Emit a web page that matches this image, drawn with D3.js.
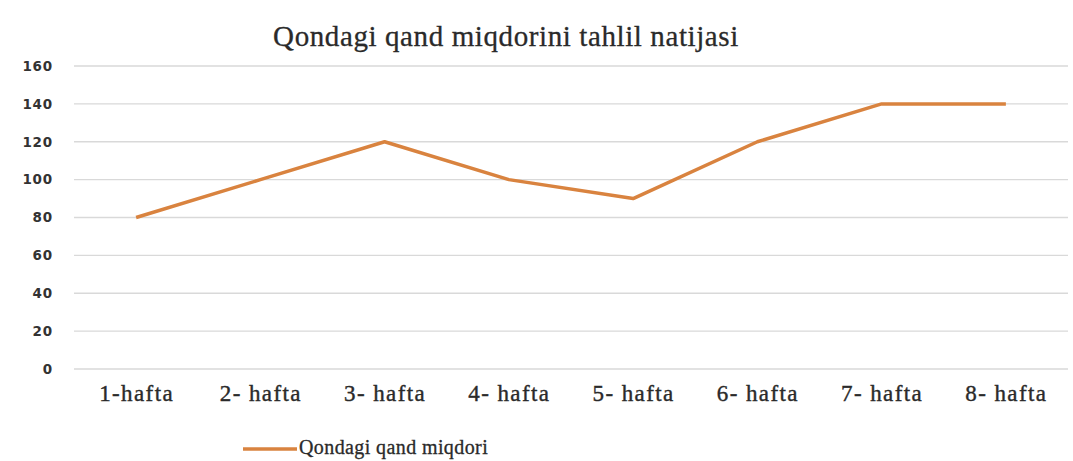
<html>
<head>
<script src="https://cdnjs.cloudflare.com/ajax/libs/d3/7.8.5/d3.min.js"></script>
<style>
  body { margin: 0; background: #fff; }
</style>
</head>
<body>
<script>
// Chart data
var weeks = ["1-hafta", "2- hafta", "3- hafta", "4- hafta", "5- hafta", "6- hafta", "7- hafta", "8- hafta"];
var sugar = [80, 100, 120, 100, 90, 120, 140, 140];
var yTicks = [0, 20, 40, 60, 80, 100, 120, 140, 160];
var chartTitle = "Qondagi qand miqdorini tahlil natijasi";
var seriesName = "Qondagi qand miqdori";

var width = 1073, height = 461;
var margin = {top: 66, right: 5, bottom: 92, left: 74};
var lineColor = "#d9833f";

var svg = d3.select("body").append("svg")
  .attr("width", width)
  .attr("height", height);

var x = d3.scalePoint()
  .domain(weeks)
  .range([margin.left, width - margin.right])
  .padding(0.5);

var y = d3.scaleLinear()
  .domain([0, 160])
  .range([height - margin.bottom, margin.top]);

// gridlines
svg.append("g")
  .selectAll("line")
  .data(yTicks)
  .enter().append("line")
  .attr("x1", margin.left)
  .attr("x2", width - margin.right)
  .attr("y1", function(d) { return y(d); })
  .attr("y2", function(d) { return y(d); })
  .attr("stroke", "#d9d9d9")
  .attr("stroke-width", 1.3);

// y axis labels
var yAxis = svg.append("g")
  .attr("transform", "translate(" + (margin.left - 21) + ",0)")
  .call(d3.axisLeft(y).tickValues(yTicks).tickSize(0).tickPadding(0));
yAxis.select(".domain").remove();
yAxis.selectAll("text")
  .attr("font-family", "'DejaVu Sans', sans-serif")
  .attr("font-weight", "bold")
  .attr("font-size", 13.5)
  .attr("letter-spacing", 0.8)
  .attr("fill", "#333");

// x axis labels
var xAxis = svg.append("g")
  .attr("transform", "translate(0," + (y(0) + 16) + ")")
  .call(d3.axisBottom(x).tickSize(0).tickPadding(0));
xAxis.select(".domain").remove();
xAxis.selectAll("text")
  .attr("font-family", "'Liberation Serif', 'DejaVu Serif', serif")
  .attr("font-size", 23)
  .attr("letter-spacing", 1.4)
  .attr("fill", "#2a2a2a")
  .attr("stroke", "#2a2a2a")
  .attr("stroke-width", 0.4);

// line
var line = d3.line()
  .x(function(d, i) { return x(weeks[i]); })
  .y(function(d) { return y(d); });

svg.append("path")
  .datum(sugar)
  .attr("d", line)
  .attr("fill", "none")
  .attr("stroke", lineColor)
  .attr("stroke-width", 3.5)
  .attr("stroke-linejoin", "round");

// title
svg.append("text")
  .attr("x", 506)
  .attr("y", 46)
  .attr("text-anchor", "middle")
  .attr("font-family", "'Liberation Serif', 'DejaVu Serif', serif")
  .attr("font-size", 29)
  .attr("letter-spacing", 0.6)
  .attr("fill", "#2a2a2a")
  .attr("stroke", "#2a2a2a")
  .attr("stroke-width", 0.3)
  .text(chartTitle);

// legend
svg.append("line")
  .attr("x1", 243).attr("x2", 297)
  .attr("y1", 449).attr("y2", 449)
  .attr("stroke", lineColor)
  .attr("stroke-width", 3.5);
svg.append("text")
  .attr("x", 299)
  .attr("y", 454)
  .attr("font-family", "'Liberation Serif', 'DejaVu Serif', serif")
  .attr("font-size", 20)
  .attr("letter-spacing", 0.4)
  .attr("fill", "#2a2a2a")
  .attr("stroke", "#2a2a2a")
  .attr("stroke-width", 0.3)
  .text(seriesName);
</script>
</body>
</html>
